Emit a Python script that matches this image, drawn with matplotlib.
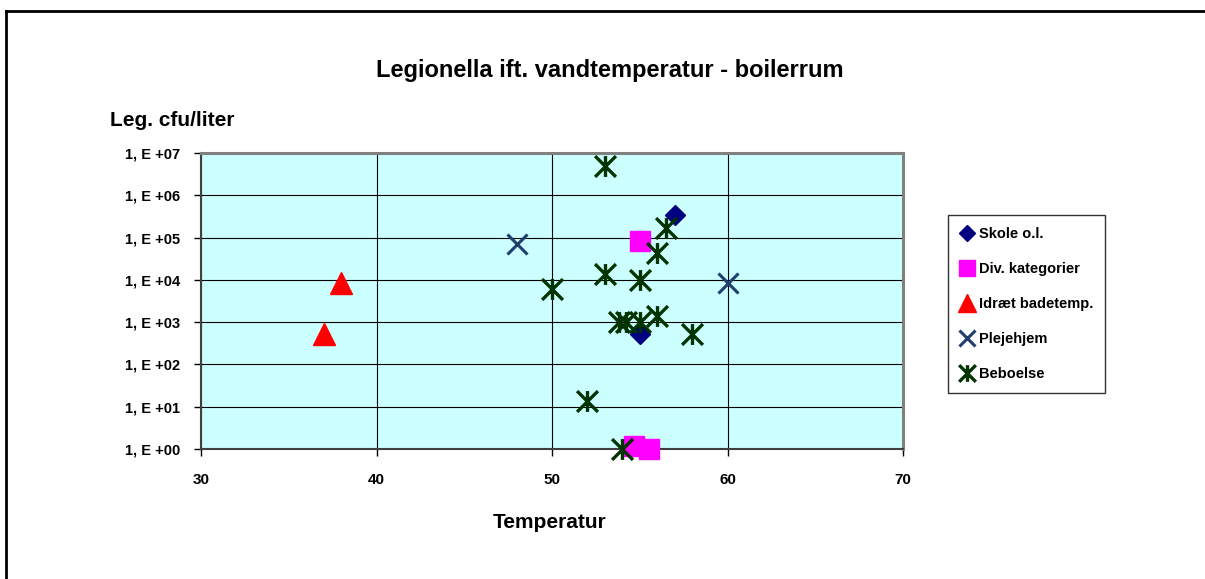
import matplotlib.pyplot as plt
from matplotlib.path import Path
from matplotlib.lines import Line2D

plt.rcParams['font.family'] = ['Liberation Sans', 'DejaVu Sans']
plt.rcParams['font.weight'] = 'bold'

# temperatur (x) og Legionella cfu/liter (y) pr. kategori
skole_t = [57, 55]
skole_cfu = [3.5e5, 5.2e2]

div_t = [55, 54.7, 55.5]
div_cfu = [8.4e4, 1.15, 1.0]

idraet_t = [38, 37]
idraet_cfu = [8.4e3, 5.2e2]

pleje_t = [48, 60]
pleje_cfu = [7.0e4, 8.3e3]

bebo_t = [53, 56.5, 56, 53, 55, 50, 53.8, 54.2, 55, 56, 58, 52, 54]
bebo_cfu = [5.0e6, 1.7e5, 4.4e4, 1.4e4, 1.0e4, 6.2e3, 1.0e3, 1.0e3, 1.0e3,
            1.4e3, 5.2e2, 1.4e1, 1.0]

ytick_vals = [10 ** k for k in range(8)]
ytick_labels = ['1, E +%02d' % k for k in range(8)]
xtick_vals = [30, 40, 50, 60, 70]

# stjerne = kryds + lodret streg
star = Path([(-1, -1), (1, 1), (-1, 1), (1, -1), (0, -1), (0, 1)],
            [Path.MOVETO, Path.LINETO, Path.MOVETO, Path.LINETO,
             Path.MOVETO, Path.LINETO])

fig = plt.figure(figsize=(12.05, 5.79), dpi=100)
ax = fig.add_axes([201 / 1205, 130 / 579, 702 / 1205, 296 / 579])
ax.set_facecolor('#CCFFFF')

ax.plot(skole_t, skole_cfu, ls='none', marker='D', ms=10.5, color='#000080',
        clip_on=False, zorder=3, label='Skole o.l.')
ax.plot(div_t, div_cfu, ls='none', marker='s', ms=14, color='#FF00FF',
        clip_on=False, zorder=3, label='Div. kategorier')
ax.plot(idraet_t, idraet_cfu, ls='none', marker='^', ms=16, color='#FF0000',
        clip_on=False, zorder=3, label='Idræt badetemp.')
ax.plot(pleje_t, pleje_cfu, ls='none', marker='x', ms=15, mew=2.2,
        color='#1F3F6F', clip_on=False, zorder=3, label='Plejehjem')
ax.plot(bebo_t, bebo_cfu, ls='none', marker=star, ms=15, mew=2.4,
        color='#003300', clip_on=False, zorder=3, label='Beboelse')

ax.set_yscale('log')
ax.set_ylim(1, 1e7)
ax.set_xlim(30, 70)
ax.set_yticks(ytick_vals)
ax.set_yticklabels(ytick_labels)
ax.minorticks_off()
ax.set_xticks(xtick_vals)
ax.grid(True, color='black', lw=0.8)
ax.set_axisbelow(True)

for s in ['top', 'right']:
    ax.spines[s].set_color('#808080')
    ax.spines[s].set_linewidth(2.2)
for s in ['left', 'bottom']:
    ax.spines[s].set_color('#404040')
    ax.spines[s].set_linewidth(1.5)
ax.tick_params(axis='both', direction='out', length=5, width=1, color='black',
               labelsize=10.5, pad=10)
ax.tick_params(axis='x', pad=12, labelsize=11)

fig.text(610 / 1205, 1 - 70 / 579, 'Legionella ift. vandtemperatur - boilerrum',
         ha='center', va='center', fontsize=17, fontweight='bold')
fig.text(110 / 1205, 1 - 121 / 579, 'Leg. cfu/liter', ha='left', va='center',
         fontsize=15, fontweight='bold')
fig.text(550 / 1205, 1 - 523 / 579, 'Temperatur', ha='center', va='center',
         fontsize=15, fontweight='bold')

leg = ax.legend(loc='upper left', bbox_to_anchor=(948 / 1205, 1 - 215 / 579),
                bbox_transform=fig.transFigure, frameon=True, fancybox=False,
                edgecolor='black', fontsize=10.5, handlelength=1.0,
                handletextpad=0.3, labelspacing=1.45, borderpad=0.8,
                borderaxespad=0, markerscale=0.8)
leg.get_frame().set_linewidth(1)

# ramme rundt om diagrammet
fig.add_artist(Line2D([6 / 1205, 1], [1 - 11 / 579] * 2, color='black', lw=2))
fig.add_artist(Line2D([6 / 1205] * 2, [0, 1 - 11 / 579], color='black', lw=2))

fig.savefig('out.png', dpi=100)
